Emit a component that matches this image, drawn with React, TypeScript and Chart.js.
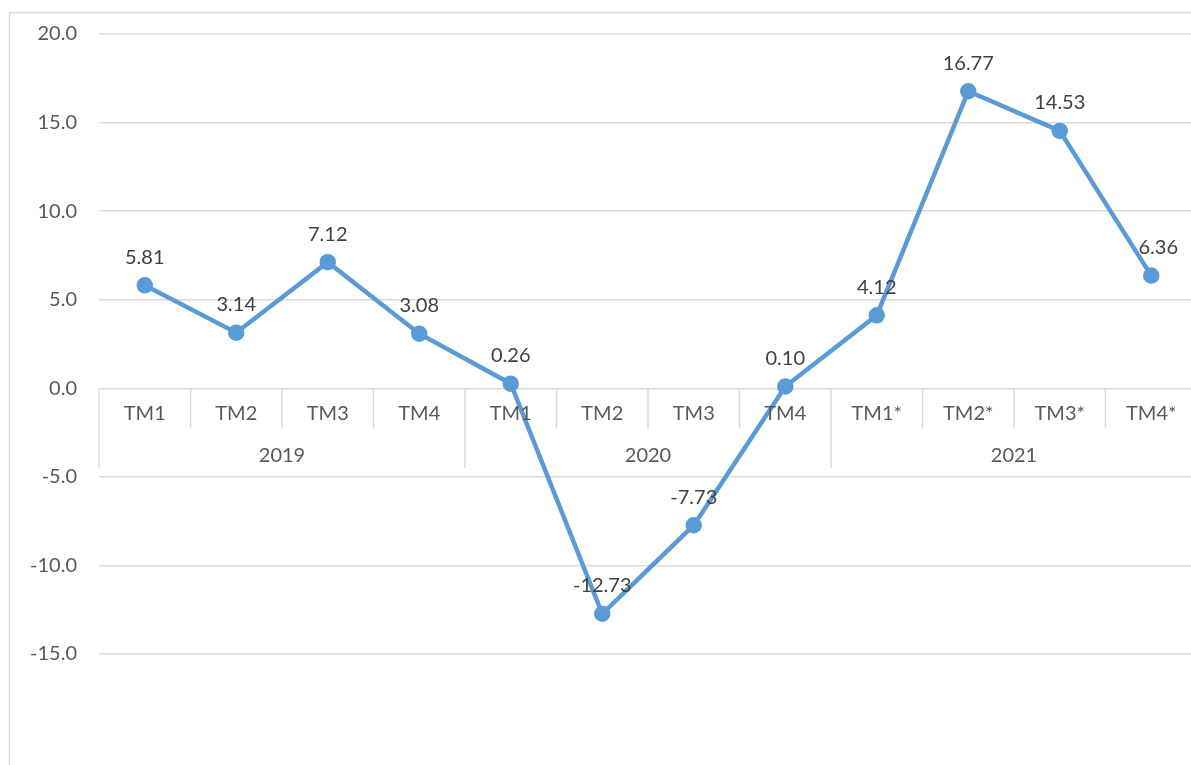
import React, { useEffect, useRef } from "react";
import { Chart, registerables } from "chart.js";

Chart.register(...registerables);

const quarters = ["TM1", "TM2", "TM3", "TM4", "TM1", "TM2", "TM3", "TM4", "TM1*", "TM2*", "TM3*", "TM4*"];
const years = ["2019", "2020", "2021"];
const quartersPerYear = 4;
const growth = [5.81, 3.14, 7.12, 3.08, 0.26, -12.73, -7.73, 0.1, 4.12, 16.77, 14.53, 6.36];
const yMin = -15;
const yMax = 20;
const yStep = 5;

const FONT = "Lato, 'Open Sans', sans-serif";
const GRID = "#D9D9D9";
const AXIS_TEXT = "#595959";
const LABEL_TEXT = "#404040";
const LINE = "#5B9BD5";

const framePlugin = {
  id: "frame",
  beforeDraw(chart: any) {
    const ctx = chart.ctx;
    ctx.save();
    ctx.fillStyle = "#FFFFFF";
    ctx.fillRect(0, 0, chart.width, chart.height);
    ctx.strokeStyle = GRID;
    ctx.lineWidth = 1.5;
    ctx.beginPath();
    ctx.moveTo(9.5, chart.height + 5);
    ctx.lineTo(9.5, 12.5);
    ctx.lineTo(chart.width + 5, 12.5);
    ctx.stroke();
    ctx.restore();
  },
};

const catAxisPlugin = {
  id: "catAxis",
  afterDraw(chart: any) {
    const ctx = chart.ctx;
    const x = chart.scales.x;
    const y = chart.scales.y;
    const y0 = y.getPixelForValue(0);
    const n = quarters.length;
    const w = x.getPixelForValue(1) - x.getPixelForValue(0);
    ctx.save();
    ctx.strokeStyle = GRID;
    ctx.lineWidth = 1.5;
    for (let i = 0; i <= n; i++) {
      const px = x.getPixelForValue(0) - w / 2 + i * w;
      const full = i % quartersPerYear === 0;
      ctx.beginPath();
      ctx.moveTo(px, y0);
      ctx.lineTo(px, y0 + (full ? 80 : 40));
      ctx.stroke();
    }
    ctx.fillStyle = AXIS_TEXT;
    ctx.font = `20px ${FONT}`;
    ctx.textAlign = "center";
    ctx.textBaseline = "middle";
    for (let i = 0; i < n; i++) {
      ctx.fillText(quarters[i], x.getPixelForValue(i), y0 + 25);
    }
    for (let j = 0; j < years.length; j++) {
      const c = x.getPixelForValue(j * quartersPerYear) - w / 2 + (quartersPerYear * w) / 2;
      ctx.fillText(years[j], c, y0 + 67);
    }
    ctx.restore();
  },
};

const dataLabelPlugin = {
  id: "dataLabels",
  afterDatasetsDraw(chart: any) {
    const ctx = chart.ctx;
    const meta = chart.getDatasetMeta(0);
    ctx.save();
    ctx.fillStyle = LABEL_TEXT;
    ctx.font = `20px ${FONT}`;
    ctx.textAlign = "center";
    ctx.textBaseline = "middle";
    const maxRight = 1177;
    meta.data.forEach((pt: any, i: number) => {
      const text = growth[i].toFixed(2);
      const tw = ctx.measureText(text).width;
      let cx = pt.x;
      if (i === meta.data.length - 1) cx = pt.x + 7;
      if (cx + tw / 2 > maxRight + 2) cx = maxRight - tw / 2;
      ctx.fillText(text, cx, pt.y - 28);
    });
    ctx.restore();
  },
};

export default function App() {
  const ref = useRef<HTMLCanvasElement>(null);
  useEffect(() => {
    if (!ref.current) return;
    const chart = new Chart(ref.current, {
      type: "line",
      data: {
        labels: quarters.map((q, i) => `${q}-${i}`),
        datasets: [
          {
            data: growth,
            borderColor: LINE,
            backgroundColor: LINE,
            borderWidth: 4.5,
            pointRadius: 6,
            pointBackgroundColor: LINE,
            pointBorderColor: LINE,
            tension: 0,
          },
        ],
      },
      options: {
        animation: false,
        responsive: false,
        maintainAspectRatio: false,
        layout: { padding: { top: 31, bottom: 111, left: 0, right: 23 } },
        plugins: { legend: { display: false }, tooltip: { enabled: false } },
        scales: {
          x: {
            type: "category",
            offset: true,
            display: false,
          },
          y: {
            min: yMin,
            max: yMax,
            ticks: {
              stepSize: yStep,
              padding: 22,
              color: AXIS_TEXT,
              font: { family: FONT, size: 20 },
              callback: (v: any) => Number(v).toFixed(1),
            },
            grid: { color: GRID, lineWidth: 1.5, drawTicks: false },
            border: { display: false },
            afterFit: (s: any) => {
              s.width = 99;
            },
          },
        },
      },
      plugins: [framePlugin, catAxisPlugin, dataLabelPlugin],
    });
    return () => chart.destroy();
  }, []);
  return (
    <div style={{ position: "fixed", left: 0, top: 0, width: 1191, height: 765, overflow: "hidden", background: "#fff" }}>
      <canvas ref={ref} width={1220} height={765} style={{ width: 1220, height: 765, display: "block" }} />
    </div>
  );
}
